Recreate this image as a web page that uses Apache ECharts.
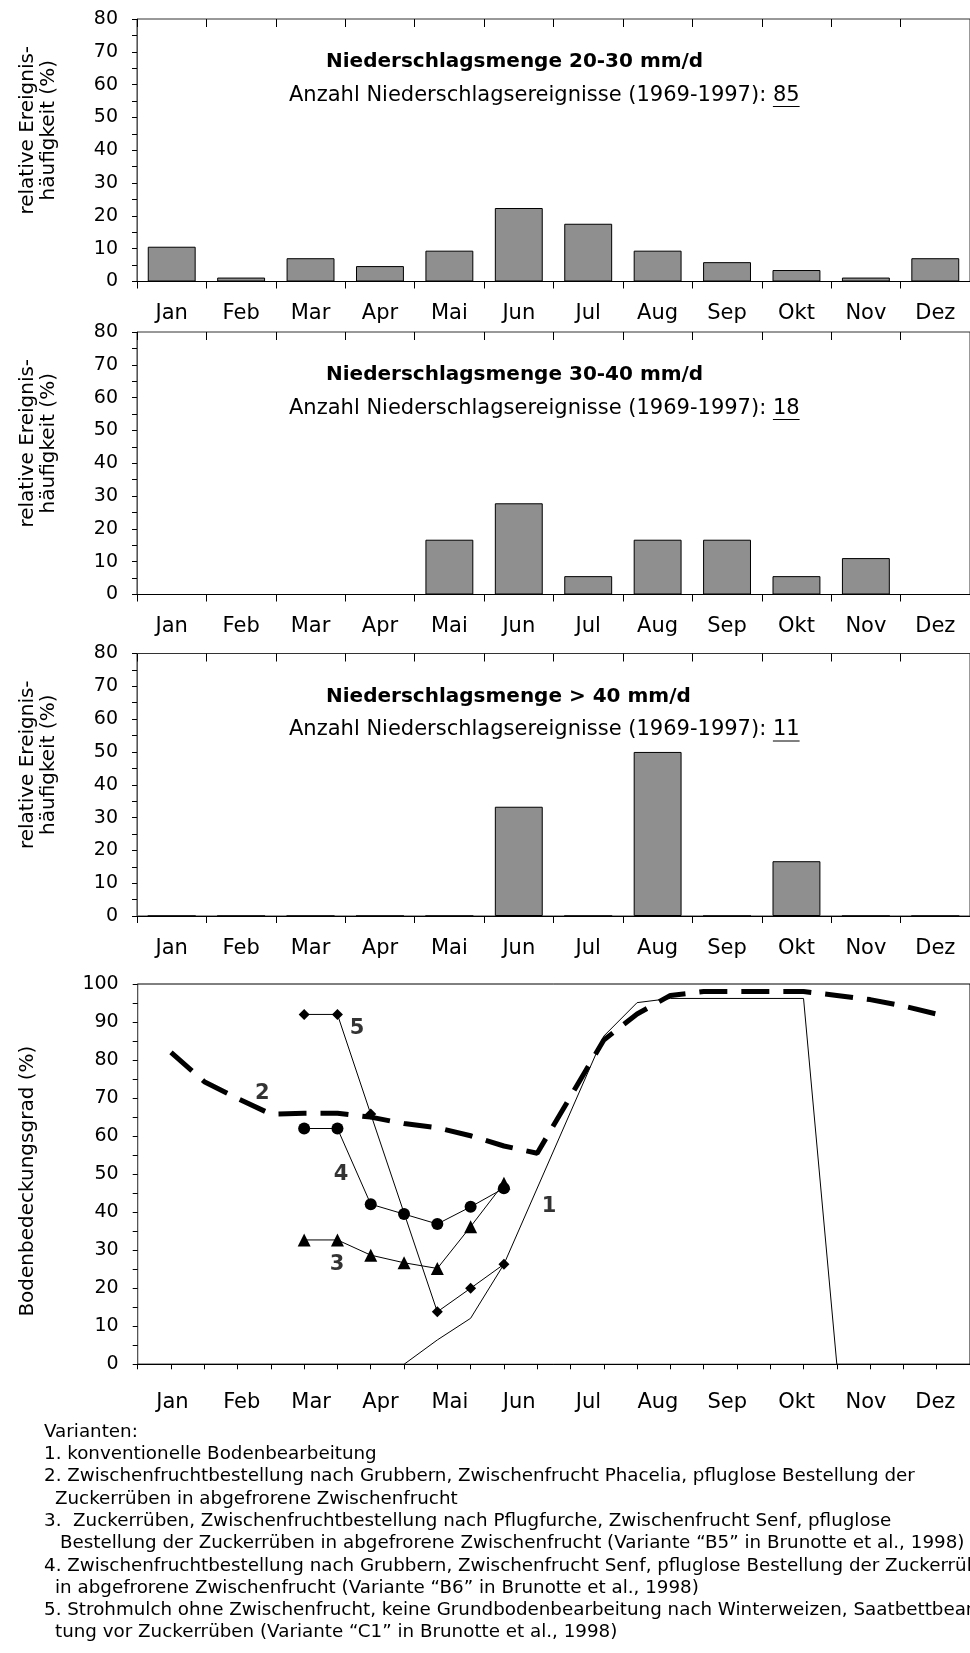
<!DOCTYPE html>
<html><head><meta charset="utf-8">
<script src="https://cdn.jsdelivr.net/npm/echarts@6/dist/echarts.min.js"></script>
<style>html,body{margin:0;padding:0;background:#fff}#c{width:970px;height:1653px}</style>
</head><body><div id="c"></div>
<script>
// ---------- data ----------
const months = ['Jan','Feb','Mar','Apr','Mai','Jun','Jul','Aug','Sep','Okt','Nov','Dez'];
const freq2030 = [10.6, 1.2, 7.1, 4.7, 9.4, 22.4, 17.6, 9.4, 5.9, 3.5, 1.2, 7.1];
const freq3040 = [0, 0, 0, 0, 16.7, 27.8, 5.6, 16.7, 16.7, 5.6, 11.1, 0];
const freq40   = [0, 0, 0, 0, 0, 33.3, 0, 50, 0, 16.7, 0, 0];
const barTitles = ['Niederschlagsmenge 20-30 mm/d', 'Niederschlagsmenge 30-40 mm/d', 'Niederschlagsmenge > 40 mm/d'];
const countText = 'Anzahl Niederschlagsereignisse (1969-1997): ';
const eventCounts = ['85', '18', '11'];
const freqAxisName = 'relative Ereignis-\nhäufigkeit (%)';
const coverAxisName = 'Bodenbedeckungsgrad (%)';
// soil coverage: [day of year, %]
const var1 = [[0,0],[112,0],[126,6.4],[140,12.1],[154,26.3],[196,86.3],[210,95.1],[224,96.2],[280,96.2],[294,0],[350,0]];
const var2 = [[14,82.0],[28,74.3],[42,69.9],[56,65.8],[70,66],[84,66],[98,65],[112,63.3],[126,62.2],[140,60.1],[154,57.4],[168,55.5],[196,85.3],[210,92.1],[224,97],[238,98],[280,98],[294,97],[308,95.9],[322,94.2],[336,92.1]];
const var3 = [[70,32.7],[84,32.7],[98,28.7],[112,26.7],[126,25.2],[140,36.2],[154,47.6]];
const var4 = [[70,62],[84,62],[98,42.1],[112,39.5],[126,36.9],[140,41.4],[154,46.3]];
const var5 = [[70,92],[84,92],[98,65.8],[126,13.8],[140,20],[154,26.3]];
// curve labels placed in data coordinates
const curveLabels = [
  {name:'1', value:[173, 41.4]},
  {name:'2', value:[52.4, 71.3]},
  {name:'3', value:[83.8, 26.1]},
  {name:'4', value:[85.5, 49.8]},
  {name:'5', value:[92.2, 88.4]}
];
const legendLines = [
  'Varianten:',
  '1. konventionelle Bodenbearbeitung',
  '2. Zwischenfruchtbestellung nach Grubbern, Zwischenfrucht Phacelia, pfluglose Bestellung der',
  'Zuckerrüben in abgefrorene Zwischenfrucht',
  '3.  Zuckerrüben, Zwischenfruchtbestellung nach Pflugfurche, Zwischenfrucht Senf, pfluglose',
  'Bestellung der Zuckerrüben in abgefrorene Zwischenfrucht (Variante “B5” in Brunotte et al., 1998)',
  '4. Zwischenfruchtbestellung nach Grubbern, Zwischenfrucht Senf, pfluglose Bestellung der Zuckerrüben',
  'in abgefrorene Zwischenfrucht (Variante “B6” in Brunotte et al., 1998)',
  '5. Strohmulch ohne Zwischenfrucht, keine Grundbodenbearbeitung nach Winterweizen, Saatbettbearbei-',
  'tung vor Zuckerrüben (Variante “C1” in Brunotte et al., 1998)'
];

// ---------- layout ----------
const FONT = '"DejaVu Sans", "Liberation Sans", Arial, sans-serif';
const barGridTops = [19, 332, 653.5];
const barGridH = 262.5;
const gridLeft = 137;
const gridW = 836;
const lineGridTop = 984, lineGridH = 380.3;

const chart = echarts.init(document.getElementById('c'), null, {renderer:'canvas'});

const grids = [], xAxes = [], yAxes = [], series = [];
const barData = [freq2030, freq3040, freq40];
barGridTops.forEach((top, i) => {
  grids.push({left: gridLeft, top: top, width: gridW, height: barGridH, show: true, borderColor: '#333', borderWidth: 1, backgroundColor: 'transparent'});
  xAxes.push({gridIndex: i, type: 'category', data: months, boundaryGap: true,
    axisLine: {lineStyle: {color: '#000', width: 1}},
    axisTick: {show: true, length: 7, interval: 0, lineStyle: {color: '#000'}},
    axisLabel: {color: '#000', fontSize: 21, fontFamily: FONT, margin: 22, interval: 0}});
  xAxes.push({gridIndex: i, type: 'category', data: months, boundaryGap: true,
    axisLine: {show: false}, axisLabel: {show: false},
    axisTick: {show: true, inside: true, length: 8, interval: 0, lineStyle: {color: '#000'}}});
  yAxes.push({gridIndex: i, type: 'value', min: 0, max: 80, interval: 10,
    name: freqAxisName, nameLocation: 'middle', nameGap: 77, nameRotate: 90,
    nameTextStyle: {color: '#000', fontSize: 20, fontFamily: FONT, lineHeight: 21.5, padding: [0, 0, 0, 40]},
    axisLine: {show: true, lineStyle: {color: '#555', width: 1}},
    axisTick: {show: true, length: 5, lineStyle: {color: '#000'}},
    minorTick: {show: true, splitNumber: 2, length: 5, lineStyle: {color: '#000'}},
    splitLine: {show: false},
    axisLabel: {color: '#000', fontSize: 19, fontFamily: FONT, margin: 19}});
  series.push({type: 'bar', xAxisIndex: i * 2, yAxisIndex: i, data: barData[i],
    barCategoryGap: '31%',
    itemStyle: {color: '#8f8f8f', borderColor: '#000', borderWidth: 1}});
});

// coverage chart
grids.push({left: gridLeft + 0.7, top: lineGridTop, width: gridW, height: lineGridH, show: true, borderColor: '#000', borderWidth: 1, backgroundColor: 'transparent'});
xAxes.push({gridIndex: 3, type: 'value', min: 0, max: 350, interval: 14,
  axisLine: {lineStyle: {color: '#000'}},
  axisTick: {show: true, length: 5, lineStyle: {color: '#000'}},
  axisLabel: {show: false}, splitLine: {show: false}});
xAxes.push({gridIndex: 3, type: 'category', data: months, boundaryGap: true, position: 'bottom',
  axisLine: {show: false}, axisTick: {show: false},
  axisLabel: {color: '#000', fontSize: 21, fontFamily: FONT, margin: 28, interval: 0}});
yAxes.push({gridIndex: 3, type: 'value', min: 0, max: 100, interval: 10,
  name: coverAxisName, nameLocation: 'middle', nameGap: 100, nameRotate: 90,
  nameTextStyle: {color: '#000', fontSize: 20, fontFamily: FONT, padding: [0, 14, 0, 0]},
  axisLine: {show: true, lineStyle: {color: '#555', width: 1}},
  axisTick: {show: true, length: 5, lineStyle: {color: '#000'}},
  minorTick: {show: true, splitNumber: 2, length: 5, lineStyle: {color: '#000'}},
  splitLine: {show: false},
  axisLabel: {color: '#000', fontSize: 19, fontFamily: FONT, margin: 19}});

const lineBase = {type: 'line', xAxisIndex: 6, yAxisIndex: 3, itemStyle: {color: '#000'}, emphasis: {disabled: true}};
series.push(Object.assign({}, lineBase, {name: '2', data: var2, symbol: 'none', z: 2,
  lineStyle: {color: '#000', width: 5, type: [28, 14], cap: 'butt'}}));
series.push(Object.assign({}, lineBase, {name: '1', data: var1, symbol: 'none', z: 3,
  lineStyle: {color: '#000', width: 1}}));
series.push(Object.assign({}, lineBase, {name: '3', data: var3, symbol: 'triangle', symbolSize: 13, z: 4,
  lineStyle: {color: '#000', width: 1}}));
series.push(Object.assign({}, lineBase, {name: '4', data: var4, symbol: 'circle', symbolSize: 12, z: 4,
  lineStyle: {color: '#000', width: 1}}));
series.push(Object.assign({}, lineBase, {name: '5', data: var5, symbol: 'diamond', symbolSize: 11, z: 4,
  lineStyle: {color: '#000', width: 1}}));
series.push({type: 'scatter', xAxisIndex: 6, yAxisIndex: 3, data: curveLabels, symbolSize: 0, z: 5,
  label: {show: true, position: 'inside', formatter: p => p.name, color: '#000', fontSize: 21, fontWeight: 'bold', fontFamily: FONT, textBorderWidth: 0}});

// ---------- titles and notes ----------
const ctx = document.createElement('canvas').getContext('2d');
function textWidth(t, font) { ctx.font = font; return ctx.measureText(t).width; }
const graphic = [];
const titleFont = 'bold 20px "DejaVu Sans"';
const subFont = '21px "DejaVu Sans"';
barGridTops.forEach((top, i) => {
  graphic.push({type: 'text', x: 326, y: top + 43, style: {text: barTitles[i], font: titleFont, fill: '#000', align: 'left', verticalAlign: 'middle'}});
  const sy = top + 76.5;
  graphic.push({type: 'text', x: 289, y: sy, style: {text: countText, font: subFont, fill: '#000', align: 'left', verticalAlign: 'middle'}});
  const nx = 289 + textWidth(countText, subFont);
  const nw = textWidth(eventCounts[i], subFont);
  graphic.push({type: 'text', x: nx, y: sy, style: {text: eventCounts[i], font: subFont, fill: '#000', align: 'left', verticalAlign: 'middle'}});
  graphic.push({type: 'line', shape: {x1: nx, y1: sy + 11, x2: nx + nw, y2: sy + 11}, style: {stroke: '#000', lineWidth: 1}});
});
const legendX = [44, 44, 44, 55, 44, 60, 44, 55, 44, 55];
const legendY0 = 1432, legendStep = 22.3;
const legendFont = '18.3px "DejaVu Sans"';
legendLines.forEach((t, i) => {
  graphic.push({type: 'text', x: legendX[i], y: legendY0 + i * legendStep, style: {text: t, font: legendFont, fill: '#000', align: 'left', verticalAlign: 'middle'}});
});

chart.setOption({
  animation: false,
  backgroundColor: '#fff',
  textStyle: {fontFamily: FONT, color: '#000'},
  grid: grids, xAxis: xAxes, yAxis: yAxes, series: series, graphic: graphic
});
</script>
</body></html>
